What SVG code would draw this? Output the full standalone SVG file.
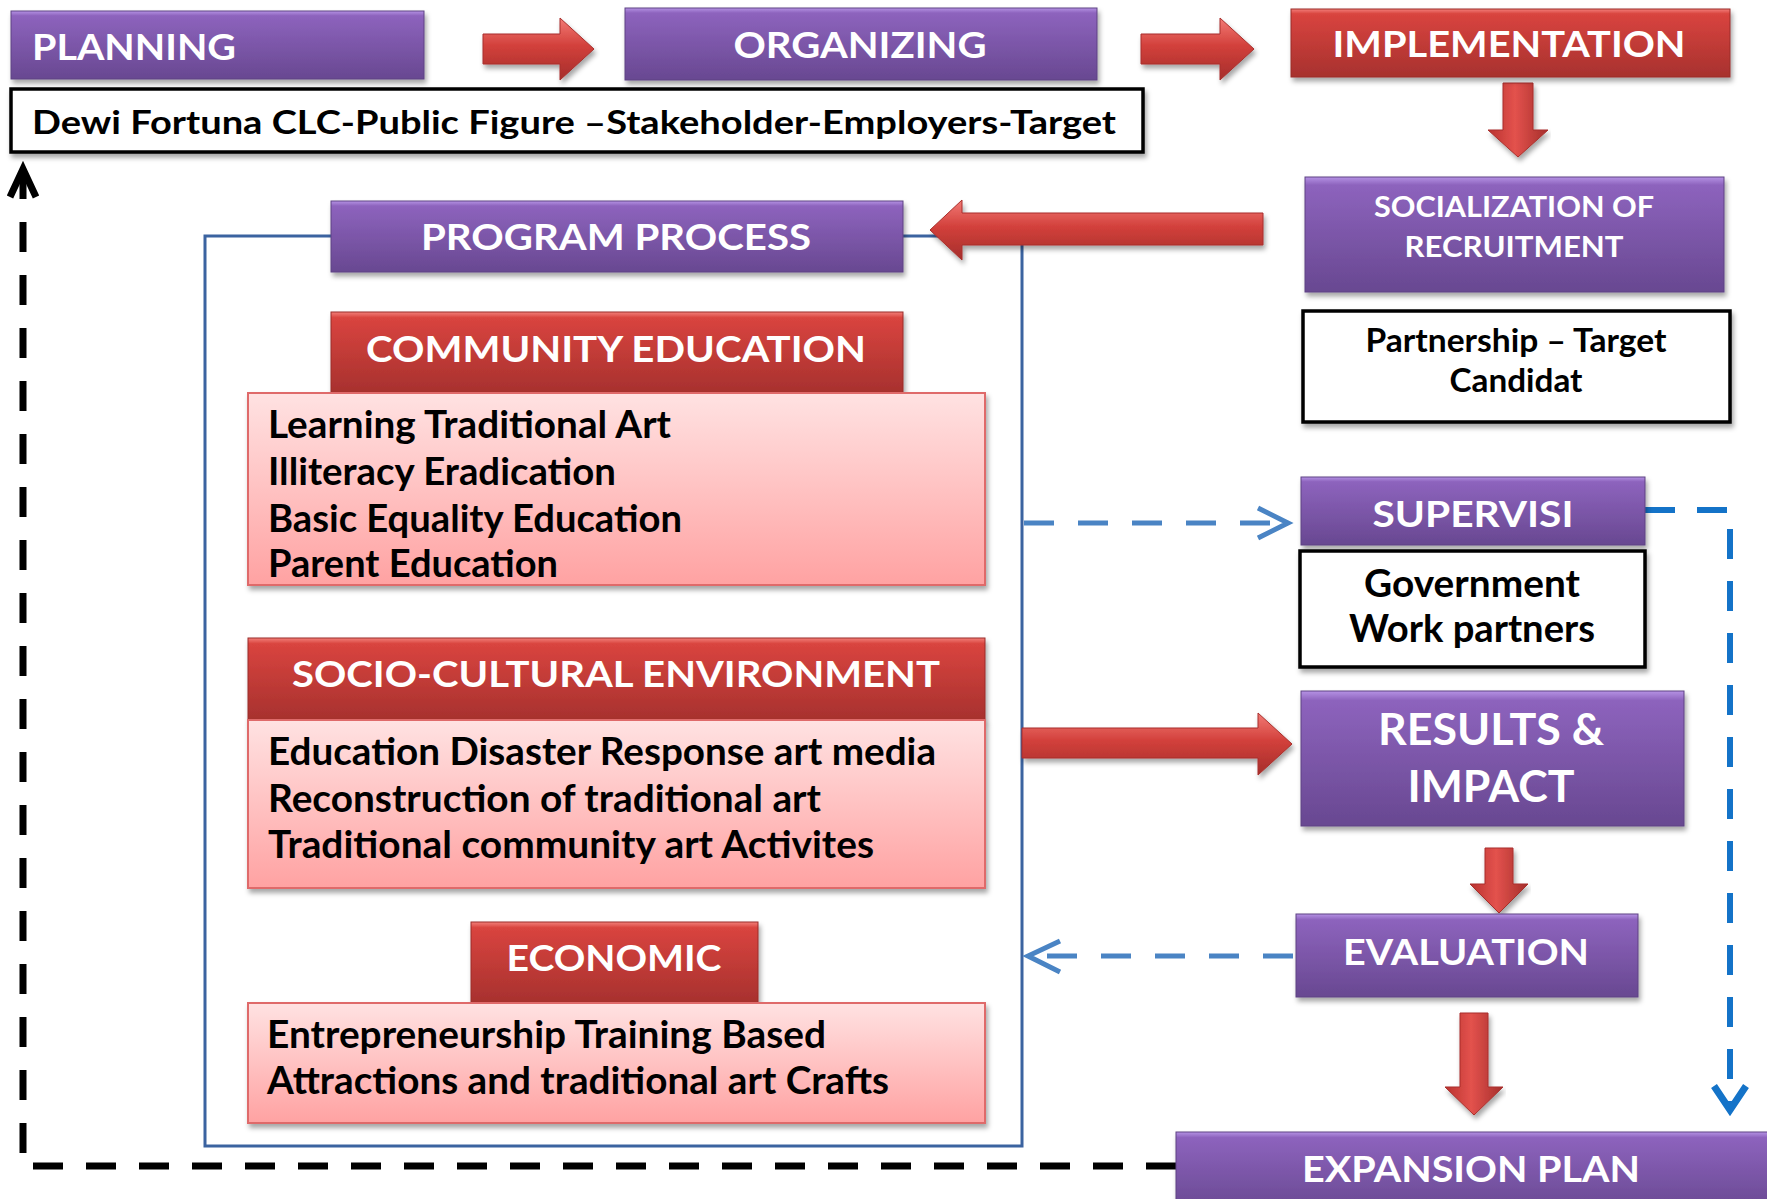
<svg xmlns="http://www.w3.org/2000/svg" width="1767" height="1199" viewBox="0 0 1767 1199">
<defs>
<linearGradient id="gPurple" x1="0" y1="0" x2="0" y2="1">
<stop offset="0" stop-color="#b592e4"/><stop offset="0.07" stop-color="#8d63bd"/><stop offset="1" stop-color="#684891"/>
</linearGradient>
<linearGradient id="gRed" x1="0" y1="0" x2="0" y2="1">
<stop offset="0" stop-color="#f3807b"/><stop offset="0.07" stop-color="#d9443f"/><stop offset="1" stop-color="#a7312e"/>
</linearGradient>
<linearGradient id="gPink" x1="0" y1="0" x2="0" y2="1">
<stop offset="0" stop-color="#ffe2e2"/><stop offset="1" stop-color="#ffa2a2"/>
</linearGradient>
<linearGradient id="gArrowH" x1="0" y1="0" x2="0" y2="1">
<stop offset="0" stop-color="#f27a75"/><stop offset="0.45" stop-color="#d2403b"/><stop offset="1" stop-color="#a52e2b"/>
</linearGradient>
<linearGradient id="gArrowV" x1="0" y1="0" x2="1" y2="0">
<stop offset="0" stop-color="#b9322f"/><stop offset="0.45" stop-color="#e3524d"/><stop offset="1" stop-color="#a52e2b"/>
</linearGradient>
<filter id="shadow" x="-5%" y="-10%" width="110%" height="130%">
<feDropShadow dx="2" dy="4" stdDeviation="2.5" flood-color="#000" flood-opacity="0.35"/>
</filter>
<style>
.purple{fill:url(#gPurple);stroke:#5e4283;stroke-width:1;filter:url(#shadow)}
.red{fill:url(#gRed);stroke:#9a2c29;stroke-width:1;filter:url(#shadow)}
.pink{fill:url(#gPink);stroke:#df6a6a;stroke-width:2;filter:url(#shadow)}
.white{fill:#fff;stroke:#000;stroke-width:3.5;filter:url(#shadow)}
.arrowH{fill:url(#gArrowH);stroke:#a82f2c;stroke-width:1;filter:url(#shadow)}
.arrowV{fill:url(#gArrowV);stroke:#a82f2c;stroke-width:1;filter:url(#shadow)}
text{font-family:Lato,"Open Sans","Liberation Sans",sans-serif;font-weight:bold}
.t{fill:#fff;font-size:37px}
.tm{fill:#fff;font-size:29px}
.tl{fill:#fff;font-size:44px}
.b{fill:#000;font-size:38px}
.bs{fill:#000;font-size:32px}
.c{text-anchor:middle}
.bluedash{fill:none;stroke:#4a84c4;stroke-width:5;stroke-dasharray:30 24}
.bluedash2{fill:none;stroke:#1473c8;stroke-width:6;stroke-dasharray:30 22}
.blackdash{fill:none;stroke:#000;stroke-width:7;stroke-dasharray:30 23}
</style>
</defs>
<rect width="1767" height="1199" fill="#fff"/>

<g id="program-frame">
<rect x="205" y="236" width="817" height="910" fill="none" stroke="#3b63a0" stroke-width="3"/>
</g>

<g id="connectors">
<path class="blackdash" d="M1176,1166 H23 V174"/>
<path d="M10,197 L23,169 L36,197" fill="none" stroke="#000" stroke-width="7" stroke-linejoin="miter"/>
<path class="bluedash" d="M1024,523 H1286"/>
<path d="M1258,508 L1288,523 L1258,538" fill="none" stroke="#4a84c4" stroke-width="5"/>
<path class="bluedash" d="M1293,956 H1030"/>
<path d="M1060,941 L1028,956 L1060,972" fill="none" stroke="#4a84c4" stroke-width="5"/>
<path class="bluedash2" d="M1645,510 H1730 V1106"/>
<path d="M1714,1086 L1730,1110 L1746,1086" fill="none" stroke="#1473c8" stroke-width="7"/>
<path class="arrowH" d="M483,34 H560 V18 L594,49 L560,80 V64 H483 Z"/>
<path class="arrowH" d="M1141,34 H1220 V18 L1254,49 L1220,80 V64 H1141 Z"/>
<path class="arrowV" d="M1503,83 H1533 V130 H1548 L1518,157 L1488,130 H1503 Z"/>
<path class="arrowH" d="M1263,213 H962 V200 L930,230 L962,260 V245 H1263 Z"/>
<path class="arrowH" d="M1022,728 H1258 V713 L1292,744 L1258,775 V758 H1022 Z"/>
<path class="arrowV" d="M1485,848 H1513 V884 H1528 L1499,913 L1470,884 H1485 Z"/>
<path class="arrowV" d="M1460,1013 H1488 V1087 H1503 L1474,1115 L1445,1087 H1460 Z"/>
</g>

<g id="planning">
<rect class="purple" x="11" y="11" width="413" height="68"/>
<text class="t" x="32" y="60" textLength="204" lengthAdjust="spacingAndGlyphs">PLANNING</text>
</g>
<g id="organizing">
<rect class="purple" x="625" y="8" width="472" height="72"/>
<text class="t c" x="860" y="58" textLength="253" lengthAdjust="spacingAndGlyphs">ORGANIZING</text>
</g>
<g id="implementation">
<rect class="red" x="1291" y="9" width="439" height="68"/>
<text class="t c" x="1509" y="57" textLength="353" lengthAdjust="spacingAndGlyphs">IMPLEMENTATION</text>
</g>
<g id="stakeholders">
<rect class="white" x="11" y="89" width="1132" height="63"/>
<text class="bs" x="32" y="134" textLength="1084" lengthAdjust="spacingAndGlyphs">Dewi Fortuna CLC-Public Figure –Stakeholder-Employers-Target</text>
</g>
<g id="socialization">
<rect class="purple" x="1305" y="177" width="419" height="115"/>
<text class="tm c" x="1514" y="217" textLength="280" lengthAdjust="spacingAndGlyphs">SOCIALIZATION OF</text>
<text class="tm c" x="1514" y="257" textLength="219" lengthAdjust="spacingAndGlyphs">RECRUITMENT</text>
</g>
<g id="partnership">
<rect class="white" x="1303" y="311" width="427" height="111"/>
<text class="bs c" x="1516" y="352" textLength="301" lengthAdjust="spacingAndGlyphs">Partnership – Target</text>
<text class="bs c" x="1516" y="392" textLength="133" lengthAdjust="spacingAndGlyphs">Candidat</text>
</g>
<g id="program-process">
<rect class="purple" x="331" y="201" width="572" height="71"/>
<text class="t c" x="616" y="250" textLength="390" lengthAdjust="spacingAndGlyphs">PROGRAM PROCESS</text>
</g>
<g id="community-education">
<rect class="red" x="331" y="312" width="572" height="81"/>
<text class="t c" x="616" y="362" textLength="500" lengthAdjust="spacingAndGlyphs">COMMUNITY EDUCATION</text>
<rect class="pink" x="248" y="393" width="737" height="192"/>
<text class="b" x="268" y="438" textLength="403" lengthAdjust="spacingAndGlyphs">Learning Traditional Art</text>
<text class="b" x="268" y="485" textLength="348" lengthAdjust="spacingAndGlyphs">Illiteracy Eradication</text>
<text class="b" x="268" y="532" textLength="414" lengthAdjust="spacingAndGlyphs">Basic Equality Education</text>
<text class="b" x="268" y="577" textLength="290" lengthAdjust="spacingAndGlyphs">Parent Education</text>
</g>
<g id="socio-cultural">
<rect class="red" x="248" y="638" width="737" height="82"/>
<text class="t c" x="616" y="687" textLength="648" lengthAdjust="spacingAndGlyphs">SOCIO-CULTURAL ENVIRONMENT</text>
<rect class="pink" x="248" y="720" width="737" height="168"/>
<text class="b" x="268" y="765" textLength="668" lengthAdjust="spacingAndGlyphs">Education Disaster Response art media</text>
<text class="b" x="268" y="812" textLength="553" lengthAdjust="spacingAndGlyphs">Reconstruction of traditional art</text>
<text class="b" x="268" y="858" textLength="606" lengthAdjust="spacingAndGlyphs">Traditional community art Activites</text>
</g>
<g id="economic">
<rect class="red" x="471" y="922" width="287" height="81"/>
<text class="t c" x="614" y="971" textLength="215" lengthAdjust="spacingAndGlyphs">ECONOMIC</text>
<rect class="pink" x="248" y="1003" width="737" height="120"/>
<text class="b" x="267" y="1048" textLength="559" lengthAdjust="spacingAndGlyphs">Entrepreneurship Training Based</text>
<text class="b" x="267" y="1094" textLength="622" lengthAdjust="spacingAndGlyphs">Attractions and traditional art Crafts</text>
</g>
<g id="supervisi">
<rect class="purple" x="1301" y="477" width="344" height="68"/>
<text class="t c" x="1473" y="527" textLength="201" lengthAdjust="spacingAndGlyphs">SUPERVISI</text>
</g>
<g id="government">
<rect class="white" x="1300" y="551" width="345" height="116"/>
<text class="b c" x="1472" y="597" textLength="216" lengthAdjust="spacingAndGlyphs">Government</text>
<text class="b c" x="1472" y="642" textLength="246" lengthAdjust="spacingAndGlyphs">Work partners</text>
</g>
<g id="results-impact">
<rect class="purple" x="1301" y="691" width="383" height="135"/>
<text class="tl c" x="1491" y="745" textLength="226" lengthAdjust="spacingAndGlyphs">RESULTS &amp;</text>
<text class="tl c" x="1491" y="802" textLength="167" lengthAdjust="spacingAndGlyphs">IMPACT</text>
</g>
<g id="evaluation">
<rect class="purple" x="1296" y="914" width="342" height="83"/>
<text class="t c" x="1466" y="965" textLength="246" lengthAdjust="spacingAndGlyphs">EVALUATION</text>
</g>
<g id="expansion-plan">
<rect class="purple" x="1176" y="1132" width="600" height="80"/>
<text class="t c" x="1471" y="1182" textLength="338" lengthAdjust="spacingAndGlyphs">EXPANSION PLAN</text>
</g>
</svg>
